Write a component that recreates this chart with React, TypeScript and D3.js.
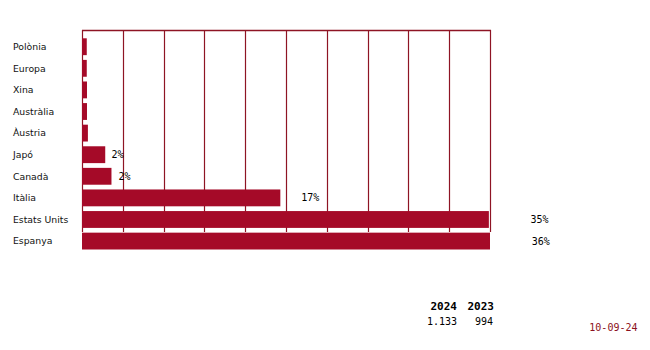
import React from "react";
import * as d3 from "d3";

const categories = ["Polònia", "Europa", "Xina", "Austràlia", "Àustria", "Japó", "Canadà", "Itàlia", "Estats Units", "Espanya"];
const values = [0.42, 0.42, 0.44, 0.44, 0.52, 2.05, 2.6, 17.5, 35.9, 36.0];
const yearLabels = ["2024", "2023"];
const yearTotals = ["1.133", "994"];
const dateLabel = "10-09-24";

const BAR = "#a50a28";
const LINE = "#8e1424";
const MONO = "'DejaVu Sans Mono', 'Liberation Mono', monospace";
const SANS = "'DejaVu Sans', Verdana, sans-serif";

export default function App() {
  const W = 650, H = 350;
  const x0 = 82, x1 = 490, yTop = 30, yBottom = 232;
  const x = d3.scaleLinear().domain([0, d3.max(values) as number]).range([x0, x1]);
  const y = d3.scaleBand<string>().domain(categories).range([38.3, 249.5]).paddingInner(0.22).paddingOuter(0);
  const ticks = d3.range(0, 11).map((i) => (i * (d3.max(values) as number)) / 10);

  return (
    <svg width={W} height={H} style={{ position: "absolute", left: 0, top: 0, background: "#fff" }}>
      {ticks.map((t, i) => (
        <line key={i} x1={Math.round(x(t)) + 0.5} x2={Math.round(x(t)) + 0.5} y1={yTop} y2={yBottom} stroke={LINE} strokeWidth={1.2} />
      ))}
      <line x1={x0} x2={x1 + 1} y1={yTop + 0.5} y2={yTop + 0.5} stroke={LINE} strokeWidth={1.5} />
      {categories.map((c, i) => (
        <rect key={c} x={x0} y={y(c)} width={x(values[i]) - x0} height={y.bandwidth()} fill={BAR} />
      ))}
      {categories.map((c, i) => (
        <text key={"l" + c} x={13} y={(y(c) as number) + y.bandwidth() / 2} dy="0.35em" fontFamily={SANS} fontSize={9.3} fill="#111">
          {c}
        </text>
      ))}
      {categories.map((c, i) => {
        const p = Math.floor(values[i]);
        if (p < 1) return null;
        const w = x(values[i]) - x0;
        return (
          <text key={"v" + c} x={x0 + 1.1 * w + 10} y={(y(c) as number) + y.bandwidth() / 2} dy="0.35em" textAnchor="middle" fontFamily={MONO} fontSize={10} fill="#000">
            {p + "%"}
          </text>
        );
      })}
      {yearLabels.map((yl, i) => (
        <text key={yl} x={457 + i * 37} y={309.5} textAnchor="end" fontFamily={MONO} fontWeight="bold" fontSize={11} fill="#000">
          {yl}
        </text>
      ))}
      {yearTotals.map((v, i) => (
        <text key={"t" + i} x={457 + i * 36} y={325} textAnchor="end" fontFamily={MONO} fontSize={10} fill="#000">
          {v}
        </text>
      ))}
      <text x={637.5} y={330.5} textAnchor="end" fontFamily={MONO} fontSize={10} fill="#8b1020">
        {dateLabel}
      </text>
    </svg>
  );
}
